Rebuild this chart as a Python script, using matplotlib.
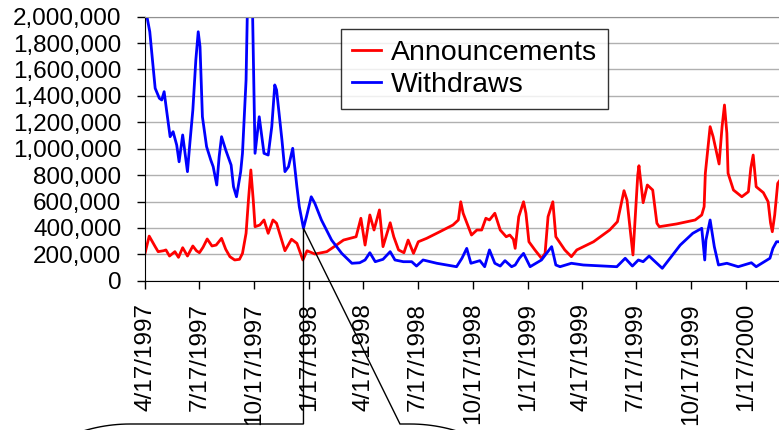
import numpy as np
import pandas as pd
import matplotlib
matplotlib.use("Agg")
import matplotlib.pyplot as plt
import matplotlib.dates as mdates
from matplotlib.ticker import FuncFormatter

# Weekly-ish counts, x as days after the first observation, values in thousands
start = pd.Timestamp("1997-04-17")

ann_days = [0, 7, 17, 22, 31, 35, 41, 50, 56, 63, 71, 80, 86, 91, 97, 104, 112, 119,
            128, 135, 142, 150, 158, 163, 169, 173, 177, 181, 184, 192, 199, 206, 214,
            220, 234, 245, 254, 264, 271, 284, 304, 318, 332, 353, 361, 368, 376, 383,
            392, 398, 410, 416, 424, 433, 440, 449, 457, 471, 493, 515, 524, 528, 532,
            546, 555, 563, 570, 576, 585, 594, 604, 610, 616, 619, 625, 633, 637, 642,
            652, 663, 669, 674, 682, 687, 702, 713, 722, 750, 777, 790, 801, 806, 812,
            816, 824, 826, 833, 840, 849, 856, 860, 889, 920, 931, 935, 937, 945, 950,
            960, 965, 969, 973, 975, 984, 998, 1009, 1013, 1017, 1022, 1034, 1042, 1046,
            1049, 1053, 1058, 1062]
ann_vals = [207, 338, 258, 220, 227, 233, 187, 220, 177, 250, 187, 263, 227, 212, 253,
            316, 263, 270, 321, 238, 182, 157, 162, 207, 359, 611, 839, 611, 409, 422,
            460, 359, 460, 435, 227, 314, 283, 157, 227, 202, 220, 263, 308, 333, 473,
            270, 498, 384, 536, 258, 439, 333, 233, 212, 308, 207, 295, 321, 371, 422,
            460, 598, 511, 346, 384, 384, 473, 460, 511, 384, 333, 346, 314, 245, 485,
            598, 511, 295, 233, 170, 207, 485, 598, 333, 233, 182, 233, 295, 384, 447,
            682, 611, 359, 195, 801, 871, 591, 725, 687, 435, 409, 430, 460, 498, 561,
            814, 1167, 1091, 884, 1167, 1331, 1117, 814, 687, 636, 674, 852, 952, 712,
            667, 598, 439, 371, 498, 737, 763]

wd_days = [0, 8, 13, 17, 24, 28, 32, 36, 42, 47, 53, 57, 63, 67, 71, 75, 80, 85, 89,
           92, 96, 103, 110, 114, 120, 124, 128, 135, 144, 148, 153, 160, 163, 169, 171,
           175, 180, 184, 191, 199, 206, 212, 217, 220, 229, 234, 240, 247, 254, 258,
           265, 270, 278, 284, 295, 312, 329, 346, 359, 368, 376, 385, 398, 410, 418,
           432, 446, 454, 465, 488, 521, 530, 538, 545, 560, 568, 576, 585, 594, 602,
           613, 619, 626, 633, 644, 663, 680, 687, 694, 713, 733, 789, 803, 815, 825,
           833, 843, 850, 865, 878, 895, 916, 931, 936, 938, 945, 952, 959, 973, 992,
           1014, 1022, 1045, 1050, 1056, 1060]
wd_vals = [2080, 1886, 1647, 1458, 1382, 1369, 1432, 1293, 1091, 1129, 1028, 901, 1104,
           965, 826, 1041, 1293, 1672, 1886, 1773, 1242, 1015, 914, 864, 725, 939, 1091,
           990, 876, 712, 636, 826, 965, 1520, 2000, 2400, 2000, 965, 1242, 965, 952,
           1167, 1483, 1445, 1066, 826, 864, 1003, 712, 561, 397, 485, 636, 586, 460,
           308, 207, 132, 136, 157, 212, 144, 162, 220, 157, 144, 144, 111, 157, 132,
           106, 170, 245, 132, 152, 106, 233, 132, 111, 152, 106, 119, 170, 207, 106,
           157, 258, 119, 106, 132, 119, 106, 170, 111, 157, 144, 187, 157, 94, 170,
           270, 359, 397, 157, 308, 460, 258, 119, 132, 106, 136, 106, 170, 245, 295, 295]

tick_labels = ["4/17/1997", "7/17/1997", "10/17/1997", "1/17/1998", "4/17/1998",
               "7/17/1998", "10/17/1998", "1/17/1999", "4/17/1999", "7/17/1999",
               "10/17/1999", "1/17/2000"]
series_names = ["Announcements", "Withdraws"]

ann_x = start + pd.to_timedelta(ann_days, unit="D")
wd_x = start + pd.to_timedelta(wd_days, unit="D")
ann_y = np.array(ann_vals) * 1000
wd_y = np.array(wd_vals) * 1000
tick_x = pd.to_datetime(tick_labels, format="%m/%d/%Y")

plt.rcParams['font.family'] = ['Liberation Sans', 'DejaVu Sans']

W, H = 779, 430
fig = plt.figure(figsize=(W / 100, H / 100), dpi=100)
# plot area runs a little past the right edge of the canvas
x0, x1, ytop, ybot = 145, 790, 16.7, 280.7
ax = fig.add_axes([x0 / W, 1 - ybot / H, (x1 - x0) / W, (ybot - ytop) / H])

ax.plot(ann_x, ann_y, color="#ff0000", lw=2, label=series_names[0])
ax.plot(wd_x, wd_y, color="#0000ff", lw=2, label=series_names[1])

px_per_day = (746 - 145) / 1005
ax.set_xlim(start, start + pd.Timedelta(days=(x1 - x0) / px_per_day))
ax.set_ylim(0, 2000000)

ax.set_yticks(np.arange(0, 2000001, 200000))
ax.yaxis.set_major_formatter(FuncFormatter(lambda v, p: f"{int(v):,}"))
ax.set_xticks(tick_x)
ax.set_xticklabels(tick_labels, rotation=90)

ax.tick_params(axis="both", direction="out", length=6, width=1, colors="black",
               labelsize=17.5)
ax.tick_params(axis="y", pad=11)
ax.tick_params(axis="x", pad=10)

ax.grid(axis="y", color="#b0b0b0", lw=1)
ax.set_axisbelow(True)
ax.spines["right"].set_visible(False)
ax.spines["top"].set_color("#909090")
ax.spines["left"].set_color("black")
ax.spines["bottom"].set_color("black")

leg = ax.legend(loc="upper left", bbox_to_anchor=(341 / W, 1 - 29 / H),
                bbox_transform=fig.transFigure, fontsize=20.5, frameon=True,
                fancybox=False, shadow=False, borderaxespad=0, borderpad=0.4,
                handlelength=1.0, handletextpad=0.35, labelspacing=0.2)
leg.get_frame().set_edgecolor("black")
leg.get_frame().set_linewidth(1)

# callout pointing at the early-1998 withdraws low
fig.canvas.draw()
apex_i = wd_days.index(265)
ax_pt = ax.transData.transform((mdates.date2num(wd_x[apex_i]), wd_y[apex_i]))
apex = (ax_pt[0], H - ax_pt[1])

ov = fig.add_axes([0, 0, 1, 1])
ov.set_xlim(0, W)
ov.set_ylim(H, 0)
ov.axis("off")
ov.patch.set_alpha(0)

box_top, r = 424, 160
left_edge, right_edge = 130, 410
base_l, base_r = apex[0], 400
t = np.linspace(0, np.pi / 2, 60)
left_arc_x = left_edge - r * np.sin(t)
left_arc_y = box_top + r - r * np.cos(t)
right_arc_x = right_edge + r * np.sin(t)
right_arc_y = box_top + r - r * np.cos(t)

path_x = np.concatenate([left_arc_x[::-1], [base_l, apex[0], base_r], right_arc_x])
path_y = np.concatenate([left_arc_y[::-1], [box_top, apex[1], box_top], right_arc_y])
ov.plot(path_x, path_y, color="black", lw=1, solid_joinstyle="miter")

fig.savefig("out.png", dpi=100)
